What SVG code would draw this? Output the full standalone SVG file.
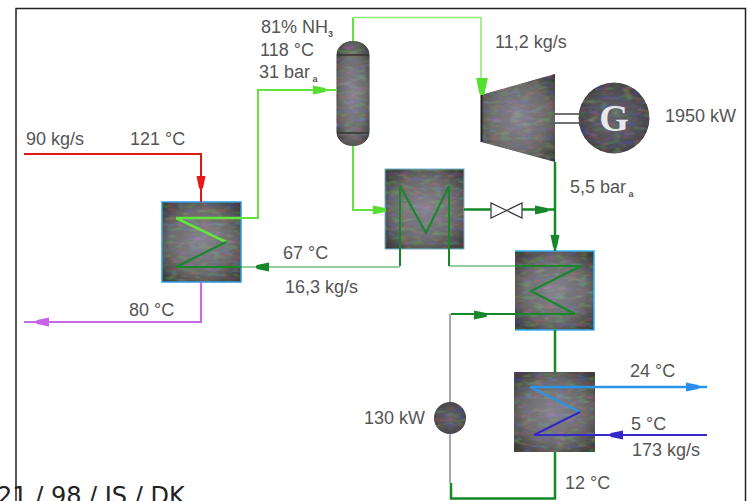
<svg xmlns="http://www.w3.org/2000/svg" width="747" height="501" viewBox="0 0 747 501">
<style>
text{font-family:"Liberation Sans",Arial,sans-serif;font-size:18px;fill:#555}
.sub{font-size:9px;font-weight:bold}
.foot{font-family:"DejaVu Sans",Verdana,sans-serif;font-size:24px;fill:#222}
.shell{fill:url(#metal);filter:url(#grain)}
.dark{fill:url(#dark);filter:url(#grain)}
.hx{stroke:#2a9be0;stroke-width:1.5}
.w{fill:none;stroke-linejoin:miter}
.lg{stroke:#63e43c;stroke-width:2}
.lgt{stroke:#8fe878;stroke-width:1.5}
.dg{stroke:#16882a;stroke-width:2.5}
.dgt{stroke:#2f9a40;stroke-width:1.2}
.gy{stroke:#8c8c8c;stroke-width:1.5}
.rd{stroke:#e01818;stroke-width:2}
.pu{stroke:#c46be0;stroke-width:2.2}
.lb{stroke:#2a94e8;stroke-width:2.5}
.db{stroke:#3528c8;stroke-width:2}
.flg{fill:#55e030}.fdg{fill:#16882a}.frd{fill:#e81818}.fpu{fill:#c860e8}.flb{fill:#2a8ef0}.fdb{fill:#3528c8}
</style>
<defs>
<radialGradient id="metal" cx="0.5" cy="0.5" r="0.72">
<stop offset="0" stop-color="#84828e"/>
<stop offset="0.55" stop-color="#6a6a68"/>
<stop offset="1" stop-color="#30302e"/>
</radialGradient>
<radialGradient id="dark" cx="0.5" cy="0.5" r="0.6">
<stop offset="0" stop-color="#62626c"/>
<stop offset="0.7" stop-color="#4c4c50"/>
<stop offset="1" stop-color="#343432"/>
</radialGradient>
<filter id="grain" x="0" y="0" width="1" height="1">
<feTurbulence type="fractalNoise" baseFrequency="0.09 0.22" numOctaves="2" seed="4" result="n"/>
<feColorMatrix in="n" type="matrix" values="0.6 0 0 0 -0.3 0 0.6 0 0 -0.3 0 0 0.8 0 -0.4 0 0 0 0 1" result="c"/>
<feComposite in="SourceGraphic" in2="c" operator="arithmetic" k1="0" k2="1" k3="0.5" k4="0" result="m"/>
<feComposite in="m" in2="SourceAlpha" operator="in"/>
</filter>
<path id="ah" d="M-13 -4.500L-1 -2L0 -1V1L-1 2L-13 4.500Z"/>
</defs>
<rect width="747" height="501" fill="#fff"/>
<path id="frame" d="M16 501V8.500H745.500V501" fill="none" stroke="#222" stroke-width="1.500"/>

<g id="nodes">
<g id="hx1"><rect class="shell" x="162" y="202" width="79" height="80"/><rect class="hx" x="162" y="202" width="79" height="80" fill="none"/></g>
<g id="separator"><rect class="shell" x="336.500" y="41" width="33" height="105" rx="16" ry="14"/><path d="M337 55H369M337 133H369" stroke="#333" stroke-width="1.500"/></g>
<g id="turbine"><path class="shell" d="M481 95L555 74V162L481 142Z"/><path d="M481.500 95V142" stroke="#222" stroke-width="2"/></g>
<g id="generator"><path d="M555 114H581M555 123H581" stroke="#444" stroke-width="1.500"/><circle class="dark" cx="614" cy="118" r="35.500"/><text x="614" y="131" text-anchor="middle" style="font-family:'Liberation Serif',serif;font-size:38px;font-weight:bold;fill:#e8e8ec">G</text></g>
<g id="hx2"><rect class="shell" x="385" y="169" width="79" height="80"/><rect x="385" y="169" width="79" height="80" fill="none" stroke="#6fb4cc" stroke-width="1"/></g>
<g id="valve"><path d="M491 203V218L522 203V218Z" fill="#fff" stroke="#333" stroke-width="1.200"/></g>
<g id="hx3"><rect class="shell" x="515" y="251" width="79" height="79"/><path d="M515 251H594V330H515" fill="none" stroke="#35b0ee" stroke-width="1.500"/></g>
<g id="hx4"><rect class="shell" x="514" y="372" width="81" height="80"/></g>
<g id="pump"><circle class="dark" cx="450" cy="418" r="16"/></g>
</g>

<g id="connectors">
<path class="w rd" d="M24 154H201V202"/>
<path class="w pu" d="M201 282V322H24"/>
<path class="w lg" d="M241 218H258V90H337"/>
<path class="w lg" d="M176 218H241M176 218L226 242" style="stroke-width:2.500"/>
<path class="w dg" d="M226 242L176 267H241" style="stroke-width:2"/>
<path class="w dgt" d="M241 267H400"/>
<path class="w lg" d="M353 41V17.500"/>
<path class="w lgt" d="M353 17.500H481V80"/>
<path class="w lg" d="M353 146V210H386"/>
<path class="w dg" d="M400 266V186L426 233L449 186V266" style="stroke-width:2"/>
<path class="w dgt" d="M449 266H515"/>
<path class="w dg" d="M464 209.500H491M522 209.500H555M555 162V251"/>
<path class="w dg" d="M515 266H581L531 291L575 314H451" style="stroke-width:2"/>
<path class="w gy" d="M450 314V402M450 434V483"/>
<path class="w dg" d="M451 483V498.500H555V452M555 330V372"/>
<path class="w lb" d="M530 387H707"/>
<path class="w lb" d="M530 387L580 412" style="stroke-width:2"/>
<path class="w db" d="M580 412L534 435H707"/>
<use href="#ah" class="frd" transform="translate(201 189) rotate(90)"/>
<use href="#ah" class="fpu" transform="translate(36 322) rotate(180)"/>
<use href="#ah" class="flg" transform="translate(326 90)"/>
<use href="#ah" class="flg" transform="translate(482 95) rotate(90) scale(1.300)"/>
<use href="#ah" class="flg" transform="translate(386 210)"/>
<use href="#ah" class="fdg" transform="translate(256 267) rotate(180)"/>
<use href="#ah" class="fdg" transform="translate(548 210)"/>
<use href="#ah" class="fdg" transform="translate(555 248) rotate(90)"/>
<use href="#ah" class="fdg" transform="translate(487 315)"/>
<use href="#ah" class="flb" transform="translate(699 387)"/>
<use href="#ah" class="fdb" transform="translate(610 435) rotate(180)"/>
</g>

<g id="labels">
<text x="26" y="145">90 kg/s</text>
<text x="130" y="145">121 °C</text>
<text x="261" y="33">81% NH<tspan class="sub" dy="4">3</tspan></text>
<text x="260" y="56">118 °C</text>
<text x="259" y="78">31 bar<tspan class="sub" dy="4"> a</tspan></text>
<text x="495" y="48">11,2 kg/s</text>
<text x="665" y="122">1950 kW</text>
<text x="570" y="193">5,5 bar<tspan class="sub" dy="4"> a</tspan></text>
<text x="283" y="259">67 °C</text>
<text x="285" y="293">16,3 kg/s</text>
<text x="129" y="316">80 °C</text>
<text x="630" y="377">24 °C</text>
<text x="631" y="430">5 °C</text>
<text x="632" y="456">173 kg/s</text>
<text x="364" y="424">130 kW</text>
<text x="565" y="489">12 °C</text>
<text class="foot" x="-3" y="504">21 / 98 / JS / DK</text>
</g>
</svg>
